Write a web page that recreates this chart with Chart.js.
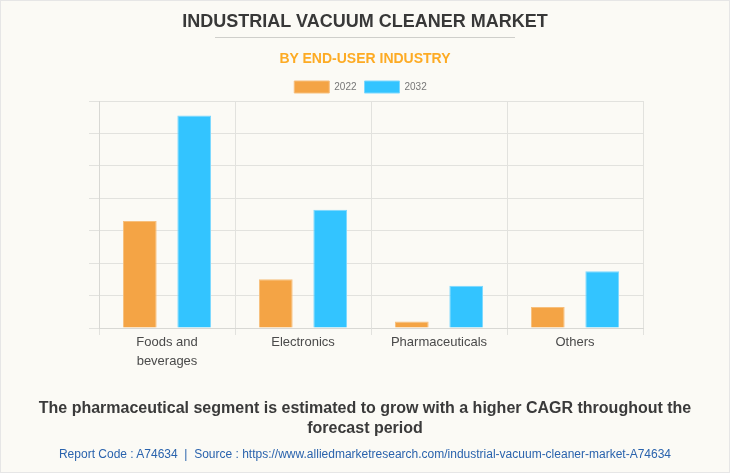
<!DOCTYPE html>
<html>
<head>
<meta charset="utf-8">
<title>Industrial Vacuum Cleaner Market</title>
<script src="https://cdn.jsdelivr.net/npm/chart.js@4"></script>
<style>
    html, body { margin: 0; padding: 0; }
    body { width: 730px; height: 473px; position: relative; overflow: hidden; background: #fbfaf5; font-family: "Liberation Sans", Arial, sans-serif; }
    #frame { position: absolute; left: 0; top: 0; width: 728px; height: 471px; border: 1px solid #e6e6e6; }
    canvas { position: absolute; left: 0; top: 0; }
    .txt { position: absolute; left: 0; width: 730px; text-align: center; }
    #title { top: 11px; font-size: 18px; font-weight: bold; color: #383838; line-height: 21px; }
    #rule { position: absolute; left: 215px; top: 37px; width: 300px; height: 1px; background: #cfcfcb; }
    #subtitle { top: 49px; font-size: 14px; font-weight: bold; color: #fdab24; line-height: 18px; }
    #note { top: 398px; left: 20px; width: 690px; font-size: 16px; font-weight: bold; color: #3a3a3a; line-height: 20px; }
    #source { top: 446px; font-size: 12px; color: #2a63ad; line-height: 16px; }
</style>
</head>
<body>
<div id="frame"></div>
<canvas id="chart-market" width="730" height="473"></canvas>
<div class="txt" id="title">INDUSTRIAL VACUUM CLEANER MARKET</div>
<div id="rule"></div>
<div class="txt" id="subtitle">BY END-USER INDUSTRY</div>
<div class="txt" id="note">The pharmaceutical segment is estimated to grow with a higher CAGR throughout the forecast period</div>
<div class="txt" id="source">Report Code : A74634 &nbsp;|&nbsp; Source : https://www.alliedmarketresearch.com/industrial-vacuum-cleaner-market-A74634</div>

<script>
// values, the y axis has no labels so units are just gridline steps
const categories = [['Foods and', 'beverages'], 'Electronics', 'Pharmaceuticals', 'Others'];
const values2022 = [3.3, 1.5, 0.2, 0.65];
const values2032 = [6.55, 3.65, 1.3, 1.75];
const yMax = 7;

// legend sits a bit left of the plot centre and close to the plot top
const legendNudge = {
    id: 'legendNudge',
    beforeInit(chart) {
        const fit = chart.legend.fit;
        chart.legend.fit = function () {
            fit.call(this);
            this.height = 28;
        };
    },
    afterLayout(chart) {
        chart.legend.right -= 11;
    }
};

new Chart(document.getElementById('chart-market'), {
    type: 'bar',
    plugins: [legendNudge],
    data: {
        labels: categories,
        datasets: [
            { label: '2022', data: values2022, backgroundColor: '#f4a445', borderColor: '#f7bf7c', borderWidth: 1, categoryPercentage: 0.8, barPercentage: 0.62 },
            { label: '2032', data: values2032, backgroundColor: '#33c4ff', borderColor: '#7cd8ff', borderWidth: 1, categoryPercentage: 0.8, barPercentage: 0.62 }
        ]
    },
    options: {
        responsive: false,
        animation: { duration: 0 },
        layout: { padding: { left: 89, right: 87, top: 73, bottom: 95 } },
        plugins: {
            tooltip: { enabled: false },
            legend: {
                position: 'top',
                labels: {
                    boxWidth: 35,
                    boxHeight: 12,
                    padding: 8,
                    color: '#777777',
                    font: { family: "'Liberation Sans', Arial, sans-serif", size: 10 }
                }
            }
        },
        scales: {
            x: {
                afterFit: s => { s.height = 50; },
                grid: { color: '#e2e2de', tickLength: 7 },
                border: { color: '#d8d8d4' },
                ticks: {
                    color: '#4a4a4a',
                    maxRotation: 0,
                    padding: -2,
                    font: { family: "'Liberation Sans', Arial, sans-serif", size: 13, lineHeight: 1.46 }
                }
            },
            y: {
                min: 0,
                max: yMax,
                afterFit: s => { s.width = 10; },
                grid: { color: '#e2e2de', tickLength: 10 },
                border: { color: '#d8d8d4' },
                ticks: { stepSize: 1, callback: () => '', padding: 0 }
            }
        }
    }
});
</script>
</body>
</html>
